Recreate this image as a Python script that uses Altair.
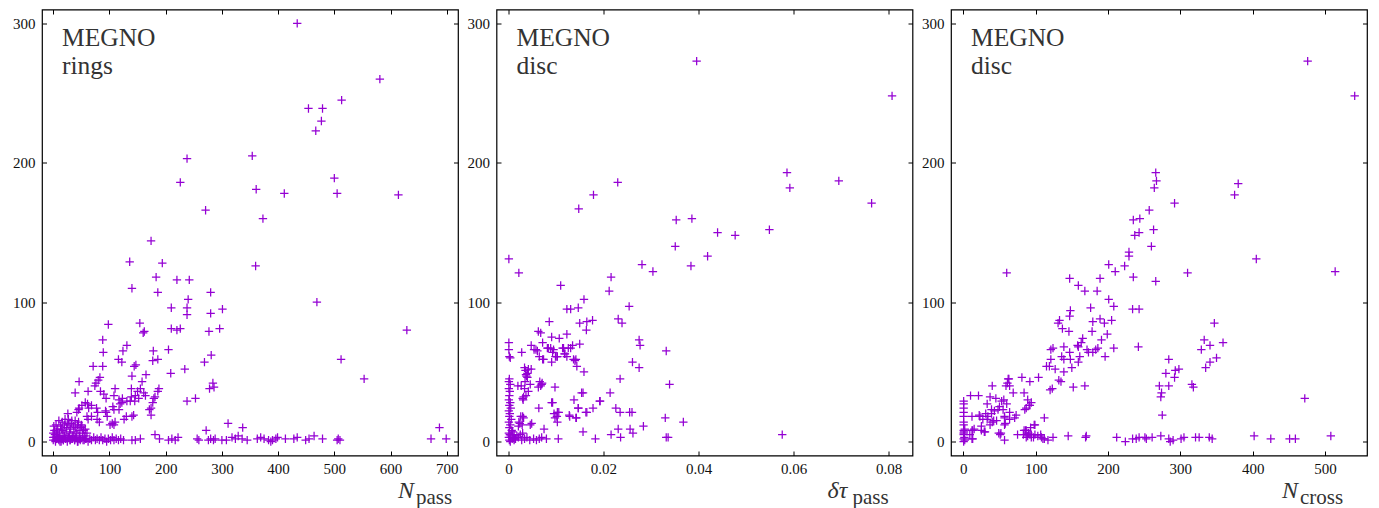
import altair as alt
import pandas as pd

# ---------------- data ----------------
rings_points = [
    (434,300),(581,260),(454,239),(479,239),(477,230),(467,223),(513,245),(354,205),(238,203),(226,186),
    (500,189),(505,178),(361,181),(411,178),(614,177),(271,166),(373,160),(174,144),(136,129),(194,128),
    (360,126),(183,118),(220,116),(242,116),(140,110),(186,107),(280,107),(240,102),(210,96),(238,96),
    (238,91),(280,92),(301,95),(469,100),
    (98,84),(154,85),(162,79),(160,78),(210,81),(220,80),(226,81),(277,79),(296,81),(629,80),(88,73),
    (89,64),(131,69),(124,65),(178,65),(205,66),(116,59),(122,57),(186,59),(177,58),(269,57),(281,62),
    (512,59),(71,54),(88,54),(147,55),(144,54),(234,52),(140,47),(165,48),(209,49),(553,45),
    (46,43),(83,46),(80,44),(74,40),(76,42),(158,43),(139,38),(110,38),(155,38),(188,38),(186,36),(181,32),
    (284,42),(286,39),(278,38),(39,35),(62,36),(84,36),(90,34),(108,33),(94,31),(123,31),(131,29),(139,32),
    (146,33),(145,29),(161,35),(164,33),(179,31),(177,28),(253,31),(238,29),(150,36),(152,31),(117,30),
    (122,28),(137,29),
    (57,28),(61,27),(68,26),(46,24),(45,23),(51,26),(42,21),(77,24),(79,21),(94,21),(93,22),(96,18),
    (117,23),(106,25),(108,23),(119,27),(130,18),(143,19),(126,16),(140,18),(171,23),(174,19),(174,24),
    (26,20),(60,18),(62,16),(63,24),(68,18),(78,16),(82,14),(101,12),(105,13),(108,12),(110,14),
    (311,13),(272,8),(337,10),(687,10),(672,2),(699,2),
    (1,11),(10,15),(16,14),(21,16),(27,16),(33,15),(39,15),(45,14),(51,11),(57,9),(60,6),(2,8),(3,5),
    (5,12),(7,3),(8,9),(11,6),(13,11),(14,2),(17,8),(19,4),(20,12),(23,7),(24,10),(26,3),(28,12),(29,6),
    (31,9),(32,13),(35,4),(36,11),(37,7),(40,10),(42,6),(43,12),(46,8),(47,4),(49,10),(52,6),(54,8),
    (56,4),(0,3),(0,6),(4,1),(9,2),(12,0),(18,1),(22,2),(30,1),(34,2),(38,1),(41,3),(44,0),(48,2),(53,1),
    (58,2),(6,7),(15,9),(25,13),(50,12),
    (0,1),(2,3),(4,0),(6,2),(8,4),(10,1),(12,3),(14,0),(16,2),(18,1),(20,4),(22,2),(25,0),(27,3),(30,1),
    (32,2),(35,4),(38,1),(40,3),(43,0),(46,2),(48,1),(52,3),(55,1),(58,2),(62,0),(65,2),(68,1),(72,3),
    (75,1),(78,2),(82,1),(85,3),(88,1),(92,2),(95,0),(98,2),(102,1),(105,3),(108,1),(112,2),(116,1),
    (120,2),(125,1),(140,1),(146,1),(155,2),(181,5),(189,2),(205,1),(211,2),(217,1),(222,3),(256,2),
    (259,1),(276,1),(280,2),(285,1),(288,2),(300,1),(308,1),(318,3),(324,2),(329,4),(336,2),(345,1),
    (363,2),(369,3),(375,2),(383,1),(387,0),(390,1),(396,2),(399,3),(413,2),(428,2),(434,3),(449,1),
    (455,2),(464,4),(479,2),(505,1),(507,2),(510,1),
]

disc_dtau_points = [
    (0.0396,273),(0.0807,248),(0.0586,193),(0.0592,182),(0.0695,187),(0.0764,171),(0.0230,186),(0.0179,177),
    (0.0148,167),(0.0353,159),(0.0386,160),(0.0440,150),(0.0477,148),(0.0549,152),(0.0351,140),(0.0419,133),
    (0.0384,126),(0.0281,127),(0.0304,122),(0.0001,131),(0.0022,121),(0.0216,118),(0.0110,112),(0.0212,108),
    (0.0159,102),(0.0254,97),(0.0123,95),(0.0131,95),(0.0147,96),(0.0231,88),(0.0239,85),(0.0177,87),
    (0.0165,86),(0.0150,85),(0.0164,80),(0.0086,86),(0.0063,79),(0.0068,78),(0.0123,77),(0.0091,75),
    (0.0107,74),(0.0275,73),(0.0277,69),(0.0001,71),(0.0001,66),(0.0004,60),(0.0002,61),(0.0028,64),
    (0.0048,69),(0.0054,66),(0.0061,65),(0.0072,71),(0.0082,67),(0.0089,67),(0.0093,64),(0.0065,61),
    (0.0072,59),(0.0099,61),(0.0103,61),(0.0114,67),(0.0118,63),(0.0131,67),(0.0135,69),(0.0123,61),
    (0.0137,59),(0.0142,59),(0.0150,70),(0.0144,54),(0.0159,50),(0.0332,65),(0.0261,57),(0.0275,53),
    (0.0034,53),(0.0036,51),(0.0048,52),(0.0038,47),(0.0040,49),(0.0027,40),(0.0046,41),(0.0034,38),
    (0.0066,43),(0.0068,40),(0.0063,39),(0.0071,42),(0.0098,39),(0.0032,32),(0.0030,31),(0.0093,28),
    (0.0064,24),(0.0103,21),(0.0106,21),(0.0098,17),(0.0103,14),(0.0138,30),(0.0142,17),(0.0128,19),
    (0.0147,24),(0.0154,35),(0.0157,35),(0.0165,21),(0.0178,24),(0.0193,29),(0.0214,35),(0.0235,45),
    (0.0226,24),(0.0235,21),(0.0255,21),(0.0260,21),(0.0284,11),(0.0256,9),(0.0262,6),(0.0231,9),
    (0.0216,5),(0.0236,3),(0.0183,2),(0.0157,7),(0.0105,2),(0.0330,17),(0.0339,41),(0.0332,3),(0.0336,3),
    (0.0368,14),(0.0576,5),(0.0026,18),(0.0032,17),(0.0022,14),(0.0029,12),(0.0049,13),(0.0020,40),
    (0.0058,66),(0.0084,67),(0.0095,66),(0.0116,67),(0.0126,67),(0.0074,59),(0.0091,57),(0.0102,61),
    (0.0119,63),(0.0140,58),(0.0042,52),(0.0037,48),(0.0040,46),(0.0035,43),(0.0070,41),(0.0042,36),
    (0.0037,33),(0.0031,30),(0.0091,28),(0.0147,24),(0.0163,21),(0.0192,29),(0.0030,18),(0.0024,13),
    (0.0046,12),(0.0021,11),(0.0075,9),(0.0096,20),(0.0102,18),(0.0129,18),(0.0143,17),
    (0.0002,45),(0.0001,43),(0.0004,41),(0.0001,38),(0.0003,36),(0.0002,33),(0.0001,30),(0.0004,28),
    (0.0002,26),(0.0005,24),(0.0001,22),(0.0003,20),(0.0002,18),(0.0006,16),(0.0001,14),(0.0004,12),
    (0.0002,10),(0.0007,8),(0.0001,6),(0.0003,5),(0.0005,4),(0.0001,3),(0.0008,2),(0.0002,1),(0.0004,0),
    (0.0010,3),(0.0012,5),(0.0009,7),(0.0015,2),(0.0018,4),(0.0012,1),
    (0.0014,2),(0.0021,3),(0.0028,1),(0.0034,2),(0.0039,3),(0.0045,1),(0.0053,2),(0.0059,1),(0.0065,2),
    (0.0070,3),(0.0080,2),(0.0025,5),(0.0030,6),
]

disc_ncross_points = [
    (476,273),(541,248),(266,193),(267,187),(264,182),(292,171),(257,166),(235,159),(244,160),(263,152),
    (237,148),(243,150),(260,140),(229,136),(229,133),(201,127),(223,126),(210,122),(235,118),(189,117),
    (147,117),(159,112),(168,108),(185,108),(266,115),(310,121),(405,131),(514,122),(60,121),(375,177),
    (380,185),(201,102),(208,97),(176,96),(148,94),(147,90),(234,95),(243,95),(205,87),(189,88),(179,86),
    (195,85),(133,87),(131,85),(137,81),(146,79),(178,79),(199,77),(191,73),(165,74),(163,71),(158,69),
    (159,68),(171,66),(173,64),(179,64),(183,66),(186,67),(208,67),(242,68),(139,68),(147,64),(121,66),
    (124,67),(136,61),(139,59),(148,59),(161,61),(159,57),(196,61),(121,59),(115,54),(119,54),(127,52),
    (139,50),(150,53),(135,43),(132,44),(123,38),(120,37),(152,39),(168,40),(104,46),(92,43),(81,46),
    (63,45),(59,40),(64,40),(40,40),(69,35),(84,35),(56,30),(53,29),(89,30),(94,28),(92,26),(87,24),
    (85,23),(64,21),(73,19),(71,17),(57,18),(58,13),(10,33),(21,33),(37,32),(12,18),(23,18),(33,27),
    (39,20),(43,22),(48,23),(50,25),(31,20),(33,16),(40,14),(42,15),(37,12),(46,15),(25,11),(13,8),(13,2),
    (30,7),(49,6),(51,5),(57,1),(75,5),(84,8),(87,8),(93,10),(99,12),(112,17),(87,3),(89,4),(94,5),(97,3),
    (108,3),(107,5),(112,2),(117,1),(124,3),(145,4),(169,3),(170,4),(212,3),(224,0),(234,2),(239,2),
    (243,3),(251,3),(253,2),(261,3),(273,4),(284,2),(286,0),(290,1),(301,2),(305,3),(321,3),(326,3),
    (340,3),(344,2),(402,4),(425,2),(451,2),(459,2),(508,4),(284,59),(280,49),(284,40),(271,40),(274,35),
    (273,32),(275,19),(293,51),(298,52),(292,46),(316,41),(318,39),(335,53),(341,57),(350,60),(329,66),
    (333,73),(341,69),(359,71),(347,85),(472,31),
    (0.5,29),(0.5,27),(0.5,24),(0.5,21),(0.5,18),(0.5,14),(0.5,12),(0.5,8),(0.5,6),(0.5,5),(0.5,2),
    (0.5,0),(1,7),(1.5,3),(2,9),(2,1),
    (39,23),(34,18),(27,16),(55,23),(57,17),(64,16),(57,12),(12,8),(15,9),(9,5),(12,2),(25,8),(29,7),
    (52,6),(62,45),(61,42),(22,19),(91,26),(86,8),(90,6),(92,5),(83,5),(94,3),(99,5),(103,4),(110,2),
    (98,12),(45,31),(60,27),
]

rings_x_ticks = [0, 100, 200, 300, 400, 500, 600, 700]
dtau_x_ticks = [0, 0.02, 0.04, 0.06, 0.08]
ncross_x_ticks = [0, 100, 200, 300, 400, 500]
megno_y_ticks = [0, 100, 200, 300]

panel_labels = [("MEGNO", "rings"), ("MEGNO", "disc"), ("MEGNO", "disc")]
axis_titles = [("N", "pass"), ("δτ", "pass"), ("N", "cross")]

# ---------------- styling ----------------
PURPLE = "#9400D3"
FONT = "Liberation Serif, Times New Roman, serif"
CROSS = "M-1,0L1,0M0,-1L0,1"
W, H = 416, 446
TICK = 4.5


def make_axis(orient, values, labels=True, expr=None, pad=6):
    kw = dict(orient=orient, values=values, offset=-TICK, tickSize=TICK, tickWidth=1,
              tickColor="black", domain=False, grid=False, title=None, labels=labels,
              labelFont=FONT, labelFontSize=15, labelColor="#111111", labelPadding=pad,
              labelFlush=False)
    if expr is not None:
        kw["labelExpr"] = expr
    return alt.Axis(**kw)


def text_layer(txt, x, y, size, italic=False, color="#333333"):
    kw = dict(align="left", baseline="alphabetic", font=FONT, fontSize=size, color=color)
    if italic:
        kw["fontStyle"] = "italic"
    return alt.Chart(pd.DataFrame({"t": [txt]})).mark_text(**kw).encode(
        text="t:N", x=alt.value(x), y=alt.value(y))


def panel(points, xdom, xticks, expr, labels, titles, tx, sx):
    df = pd.DataFrame(points, columns=["x", "y"])
    xs = alt.Scale(domain=xdom, nice=False, zero=False)
    ys = alt.Scale(domain=[-10, 310], nice=False, zero=False)
    pts = alt.Chart(df).mark_point(shape=CROSS, size=70, filled=False, color=PURPLE,
                                   strokeWidth=1.25, opacity=1).encode(
        x=alt.X("x:Q", scale=xs, axis=make_axis("bottom", xticks, expr=expr, pad=6)),
        y=alt.Y("y:Q", scale=ys, axis=make_axis("left", megno_y_ticks, pad=7)),
    )
    mirror = alt.Chart(df).mark_point(opacity=0).encode(
        x=alt.X("x:Q", scale=xs, axis=make_axis("top", xticks, labels=False)),
        y=alt.Y("y:Q", scale=ys, axis=make_axis("right", megno_y_ticks, labels=False)),
    )
    l1 = text_layer(labels[0], 20, 36.5, 25.5)
    l2 = text_layer(labels[1], 20, 64, 25.5)
    t1 = text_layer(titles[0], tx, 488, 24, italic=True)
    t2 = text_layer(titles[1], sx, 494, 21)
    return alt.layer(pts, mirror, l1, l2, t1, t2).resolve_axis(
        x="independent", y="independent").properties(width=W, height=H)


p1 = panel(rings_points, [-20, 720], rings_x_ticks, None, panel_labels[0], axis_titles[0], 356, 374)
p2 = panel(disc_dtau_points, [-0.0025, 0.085], dtau_x_ticks,
           "datum.value == 0 ? '0' : format(datum.value, '.2f')", panel_labels[1], axis_titles[1], 331, 356)
p3 = panel(disc_ncross_points, [-17, 558], ncross_x_ticks, None, panel_labels[2], axis_titles[2], 331, 349)

chart = alt.hconcat(p1, p2, p3, spacing=38.5, bounds="flush").properties(
    padding={"left": 11, "top": 7.5, "right": 5, "bottom": 2},
    background="white",
).configure_view(stroke="black", strokeWidth=1.2)

chart.save("out.html", embed_options={"renderer": "svg", "actions": False})
